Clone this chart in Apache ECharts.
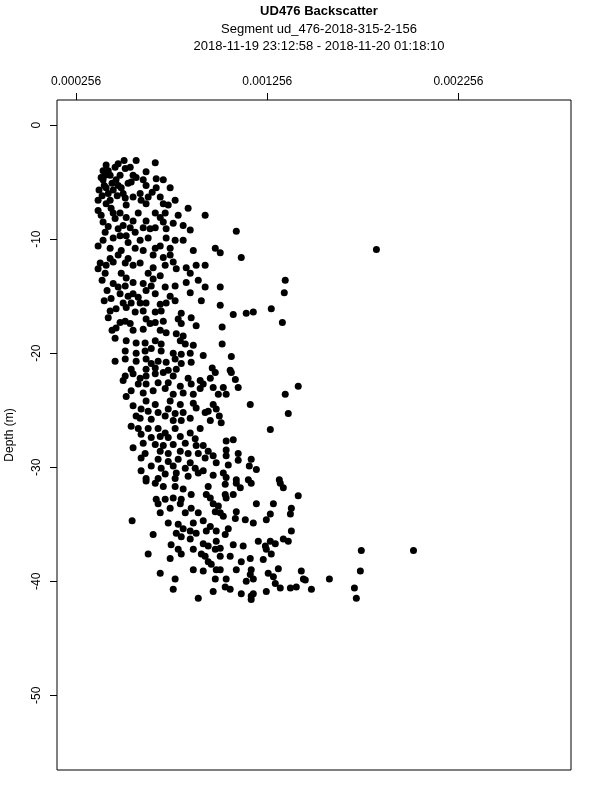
<!DOCTYPE html>
<html>
<head>
<meta charset="utf-8">
<title>UD476 Backscatter</title>
<script src="https://cdn.jsdelivr.net/npm/echarts@6/dist/echarts.min.js"></script>
<style>
  html, body { margin: 0; padding: 0; background: #fff; }
  #chart { width: 600px; height: 800px; }
</style>
</head>
<body>
<div id="chart"></div>
<script>
// backscatter / depth pairs, split by depth zone
var shallow = [
  [0.000570,-3.1],[0.000670,-3.3],[0.000476,-3.4],[0.000460,-3.7],[0.000513,-3.8],[0.000539,-3.7],[0.000397,-4.0],[0.000408,-4.4],
  [0.000397,-4.8],[0.000403,-5.3],[0.000413,-5.5],[0.000434,-4.4],[0.000465,-4.8],[0.000486,-4.4],[0.000554,-4.4],[0.000570,-4.6],
  [0.000622,-4.1],[0.000675,-4.7],[0.000712,-4.8],[0.000528,-5.1],[0.000544,-5.0],[0.000622,-5.3],[0.000675,-5.5],[0.000748,-5.5],
  [0.000424,-6.0],[0.000450,-5.7],[0.000492,-5.5],[0.000502,-6.0],[0.000513,-6.4],[0.000591,-6.0],[0.000596,-6.6],[0.000622,-6.9],
  [0.000696,-6.3],[0.000712,-6.9],[0.000738,-7.0],[0.000774,-6.6],[0.000842,-7.3],[0.000413,-6.9],[0.000439,-7.3],[0.000450,-7.7],
  [0.000486,-7.7],[0.000518,-8.1],[0.000554,-8.4],[0.000539,-9.0],[0.000670,-7.7],[0.000696,-8.1],[0.000722,-7.7],[0.000622,-8.4],
  [0.000764,-8.6],[0.000727,-9.1],[0.000712,-8.5],[0.000853,-9.2],[0.000397,-8.5],[0.000408,-9.4],[0.000476,-9.1],[0.000486,-9.7],
  [0.000565,-9.4],[0.000591,-10.1],[0.000643,-9.1],[0.000670,-9.0],[0.000727,-9.9],[0.000774,-10.1],[0.000397,-10.1],[0.000434,-10.8],
  [0.000476,-11.4],[0.000492,-11.0],[0.000565,-10.8],[0.000607,-11.0],[0.000670,-10.8],[0.000712,-11.6],[0.000748,-11.4],
  [0.000387,-4.6],[0.000424,-4.0],[0.000444,-5.1],[0.000471,-6.2],[0.000392,-6.2],[0.000376,-5.7],[0.000434,-6.6],[0.000554,-6.3],
  [0.000654,-5.9],[0.000581,-7.7],[0.000387,-7.9],[0.000371,-7.5],[0.000424,-8.9],[0.000502,-8.8],[0.000607,-9.0],[0.000790,-7.9],
  [0.000816,-8.8],[0.000931,-7.9],[0.001094,-9.3],[0.000450,-9.9],[0.000528,-10.3],[0.000633,-9.9],[0.000696,-10.6],[0.000816,-10.1],
  [0.000371,-10.6],[0.000518,-9.7],[0.000748,-10.8],[0.000984,-10.8],[0.001010,-11.2],[0.001120,-11.6],[0.001827,-10.9],[0.000869,-11.0],
  [0.000434,-11.7],[0.000528,-11.7],[0.000659,-11.4],[0.000476,-5.3],[0.000518,-7.0],[0.000460,-8.2],[0.000413,-3.5],[0.000607,-4.8],
  [0.000507,-3.1],[0.000633,-6.3],[0.000371,-6.6]
];

var upperMid = [
  [0.000382,-12.1],[0.000413,-12.3],[0.000450,-12.0],[0.000513,-12.1],[0.000554,-12.3],[0.000591,-12.1],[0.000659,-12.5],[0.000722,-12.3],
  [0.000764,-12.0],[0.000780,-12.6],[0.000832,-12.5],[0.000884,-12.3],[0.000408,-13.0],[0.000492,-13.0],[0.000518,-13.4],[0.000633,-13.0],
  [0.000659,-13.5],[0.000696,-13.2],[0.000853,-13.0],[0.000450,-13.9],[0.000476,-14.2],[0.000513,-14.1],[0.000554,-13.8],[0.000607,-13.9],
  [0.000622,-14.5],[0.000649,-14.1],[0.000722,-14.2],[0.000774,-14.1],[0.000832,-13.8],[0.000486,-14.8],[0.000528,-15.0],[0.000554,-14.8],
  [0.000581,-15.1],[0.000670,-14.8],[0.000748,-15.0],[0.000853,-14.7],[0.000439,-15.2],[0.000502,-15.6],[0.000544,-15.6],[0.000591,-15.6],
  [0.000622,-15.6],[0.000696,-15.7],[0.000727,-15.6],[0.000774,-15.4],[0.000465,-16.1],[0.000518,-16.0],[0.000565,-16.4],[0.000607,-16.3],
  [0.000670,-16.4],[0.000701,-16.3],[0.000806,-16.5],[0.000424,-16.9],[0.000486,-17.3],[0.000513,-17.2],[0.000539,-17.4],[0.000622,-17.0],
  [0.000643,-17.4],[0.000670,-17.3],[0.000712,-17.2],[0.000790,-17.0],[0.000806,-17.4],[0.000858,-16.9],[0.000465,-17.8],[0.000554,-18.0],
  [0.000607,-17.9],[0.000696,-18.0],[0.000727,-18.2],[0.000780,-18.3],[0.000816,-18.5],[0.000460,-18.7],[0.000518,-18.9],[0.000570,-19.1],
  [0.000617,-19.1],[0.000670,-18.9],[0.000701,-19.2],[0.000801,-18.9],[0.000827,-19.2],[0.000869,-19.3],[0.000513,-19.8],[0.000570,-20.0],
  [0.000617,-19.8],[0.000649,-19.6],[0.000701,-19.8],[0.000764,-20.0],[0.000806,-20.1],[0.000853,-20.0],[0.000460,-20.7],[0.000513,-20.5],
  [0.000570,-20.7],[0.000622,-20.5],[0.000649,-20.9],[0.000685,-20.7],[0.000727,-20.8],[0.000774,-20.5],[0.000806,-20.9],[0.000858,-20.8],
  [0.000544,-21.4],[0.000622,-21.4],[0.000670,-21.3],[0.000738,-21.5],[0.000780,-21.4],
  [0.000931,-12.3],[0.000931,-14.2],[0.001010,-14.2],[0.001350,-13.6],[0.001345,-14.7],[0.001010,-15.8],[0.001078,-16.6],[0.001146,-16.5],
  [0.001183,-16.4],[0.001277,-16.1],[0.001335,-17.3],[0.001020,-17.7],[0.001020,-19.2],[0.001068,-20.3],[0.000968,-21.3],[0.001062,-21.5],
  [0.000392,-13.6],[0.000418,-14.5],[0.000403,-15.4],[0.000434,-16.3],[0.000371,-12.6],[0.000444,-18.0],
  [0.000895,-13.6],[0.000911,-15.4],[0.000884,-17.6],[0.000921,-20.2]
];

var lowerMid = [
  [0.000513,-22.0],[0.000554,-21.8],[0.000591,-22.2],[0.000622,-22.0],[0.000670,-21.8],[0.000712,-21.7],[0.000764,-22.0],[0.000842,-22.2],
  [0.000905,-22.4],[0.000581,-22.7],[0.000622,-22.7],[0.000685,-22.6],[0.000738,-22.6],[0.000801,-22.9],[0.000858,-22.7],[0.000544,-23.3],
  [0.000607,-23.5],[0.000659,-23.3],[0.000722,-23.1],[0.000764,-23.6],[0.000816,-23.5],[0.000869,-23.6],[0.000905,-23.1],[0.000622,-24.2],
  [0.000670,-24.5],[0.000748,-24.2],[0.000801,-24.5],[0.000869,-24.4],[0.000596,-24.9],[0.000633,-25.1],[0.000685,-25.2],[0.000738,-24.9],
  [0.000774,-25.3],[0.000816,-25.2],[0.000884,-24.8],[0.000591,-25.7],[0.000649,-25.8],[0.000722,-25.5],[0.000764,-25.9],[0.000806,-25.9],
  [0.000853,-25.7],[0.000544,-26.4],[0.000581,-26.6],[0.000633,-26.6],[0.000685,-26.6],[0.000722,-27.0],[0.000774,-26.6],[0.000853,-27.0],
  [0.000905,-26.6],[0.000596,-27.1],[0.000649,-27.4],[0.000696,-27.3],[0.000738,-27.4],[0.000801,-27.3],[0.000879,-27.5],[0.000607,-27.9],
  [0.000670,-28.0],[0.000712,-28.1],[0.000764,-28.0],[0.000827,-27.9],[0.000884,-28.1],[0.000554,-28.3],[0.000617,-28.8],[0.000696,-28.6],
  [0.000738,-28.8],[0.000801,-28.6],[0.000842,-28.8],[0.000895,-28.8],[0.000596,-29.2],[0.000685,-29.3],[0.000738,-29.5],[0.000790,-29.3],
  [0.000853,-29.6],[0.000649,-29.9],[0.000701,-30.1],[0.000764,-29.9],[0.000827,-30.1],[0.000879,-30.1],[0.000596,-30.3],[0.000722,-30.6],
  [0.000780,-30.5],[0.000842,-30.8],[0.000895,-30.5],[0.000622,-31.0],[0.000685,-31.0],[0.000774,-31.0],
  [0.000984,-21.7],[0.001068,-21.7],[0.000958,-22.2],[0.001089,-22.3],[0.000921,-22.7],[0.000973,-23.0],[0.001026,-23.0],[0.001104,-23.0],
  [0.001418,-22.9],[0.001000,-23.6],[0.001041,-23.6],[0.001350,-23.6],[0.000973,-24.5],[0.000989,-24.9],[0.000947,-25.1],[0.000931,-25.2],
  [0.001167,-24.5],[0.001366,-25.3],[0.001005,-25.5],[0.000958,-25.9],[0.001015,-26.1],[0.001272,-26.7],[0.001041,-27.7],[0.001078,-27.6],
  [0.000921,-28.1],[0.000947,-28.6],[0.000931,-29.2],[0.000973,-29.0],[0.001041,-28.5],[0.001041,-29.0],[0.001104,-28.8],[0.000989,-29.6],
  [0.001052,-29.8],[0.001104,-29.4],[0.001172,-29.3],[0.001162,-29.9],[0.001199,-30.2],[0.000921,-30.3],[0.000973,-30.7],[0.001026,-30.5],
  [0.001041,-30.9],[0.001094,-31.1],[0.001157,-31.1],[0.001319,-31.1],
  [0.000518,-23.8],[0.000554,-24.6],[0.000502,-22.4],[0.000570,-25.5]
];

var deep = [
  [0.000622,-31.2],[0.000670,-31.4],[0.000712,-31.7],[0.000774,-31.7],[0.000816,-31.9],[0.000858,-32.4],[0.000675,-32.8],[0.000722,-32.8],
  [0.000764,-32.7],[0.000806,-32.8],[0.000685,-33.2],[0.000696,-34.0],[0.000748,-33.6],[0.000801,-33.2],[0.000827,-34.0],[0.000858,-33.6],
  [0.000895,-34.0],[0.000549,-34.7],[0.000738,-34.9],[0.000790,-35.0],[0.000816,-35.4],[0.000853,-35.6],[0.000884,-35.8],[0.000869,-34.9],
  [0.000659,-35.9],[0.000780,-35.8],[0.000806,-36.1],[0.000853,-36.3],[0.000753,-36.8],[0.000790,-37.2],[0.000806,-37.6],[0.000869,-37.2],
  [0.000911,-37.6],[0.000633,-37.6],[0.000748,-38.0],[0.000696,-39.3],[0.000774,-39.8],[0.000764,-40.7],[0.000869,-39.0],[0.000895,-41.5],
  [0.000947,-31.7],[0.000937,-32.4],[0.000958,-32.7],[0.001036,-31.5],[0.001094,-31.4],[0.001115,-31.8],[0.001172,-31.4],[0.001324,-31.4],
  [0.001340,-31.8],[0.001036,-32.4],[0.001078,-32.4],[0.001041,-32.7],[0.001418,-32.5],[0.000973,-33.2],[0.001000,-33.4],[0.000984,-33.9],
  [0.001010,-34.0],[0.001026,-34.3],[0.001199,-33.2],[0.001288,-33.2],[0.001382,-33.6],[0.001377,-34.1],[0.001094,-33.9],[0.001089,-34.5],
  [0.001141,-34.6],[0.001183,-34.9],[0.001251,-34.6],[0.001272,-34.1],[0.000921,-34.7],[0.000958,-35.2],[0.000937,-35.6],[0.000989,-35.6],
  [0.001052,-35.4],[0.001036,-35.9],[0.001382,-35.6],[0.000921,-36.7],[0.000947,-36.9],[0.000989,-36.5],[0.000984,-37.2],[0.001010,-37.1],
  [0.001078,-36.8],[0.001130,-36.9],[0.001209,-36.5],[0.001272,-36.5],[0.001298,-36.7],[0.001340,-36.3],[0.001366,-36.5],[0.001246,-36.9],
  [0.000931,-37.8],[0.000947,-38.3],[0.000963,-38.5],[0.001010,-37.8],[0.001062,-37.8],[0.001120,-38.3],[0.001167,-38.0],[0.001235,-38.1],
  [0.001251,-37.2],[0.001277,-37.6],[0.000921,-39.1],[0.000989,-39.0],[0.001010,-39.0],[0.001094,-39.0],[0.001172,-39.0],[0.001261,-39.3],
  [0.001314,-38.9],[0.001434,-39.1],[0.000984,-39.8],[0.001041,-39.8],[0.001167,-39.4],[0.001146,-40.0],[0.001183,-39.8],[0.001288,-39.6],
  [0.001298,-40.2],[0.001445,-39.8],[0.001408,-40.5],[0.001377,-40.6],[0.001487,-40.7],[0.000973,-40.9],[0.001036,-40.5],[0.001062,-40.7],
  [0.001120,-41.1],[0.001183,-41.1],[0.001172,-41.3],[0.001251,-40.9],[0.001324,-40.6],[0.001172,-41.6],
  [0.001581,-39.8],[0.001748,-37.3],[0.002021,-37.3],[0.001743,-39.1],[0.001455,-39.9],[0.001712,-40.6],[0.001722,-41.5]
];

var xTicks = [0.000256, 0.001256, 0.002256];
var yTicks = [0, -10, -20, -30, -40, -50];
var titleLines = [
  'UD476 Backscatter',
  'Segment ud_476-2018-315-2-156',
  '2018-11-19 23:12:58 - 2018-11-20 01:18:10'
];

var font = 'Liberation Sans, Arial, Helvetica, sans-serif';

function draw_backscatter(){
    var chart = echarts.init(document.getElementById('chart'), null, {renderer: 'canvas'});
    var points = shallow.concat(upperMid, lowerMid, deep);

    var option = {
        animation: false,
        backgroundColor: '#fff',
        textStyle: {fontFamily: font, color: '#000'},
        title: titleLines.map(function (t, i) {
            return {
                text: t,
                left: 314,
                top: 0 + i * 17.5,
                textAlign: 'center',
                textStyle: {
                    fontFamily: font,
                    fontSize: 13,
                    fontWeight: i === 0 ? 'bold' : 'normal',
                    color: '#000'
                }
            };
        }),
        grid: {
            left: 57,
            right: 29,
            top: 100,
            bottom: 30,
            containLabel: false,
            outerBoundsMode: 'none',
            show: true,
            borderColor: '#000',
            borderWidth: 1,
            backgroundColor: 'transparent'
        },
        xAxis: {
            type: 'value',
            position: 'top',
            min: 0.000156,
            max: 0.002845,
            axisLine: {show: false, onZero: false},
            splitLine: {show: false},
            axisTick: {
                show: true,
                length: 7,
                customValues: xTicks,
                lineStyle: {color: '#000', width: 1}
            },
            axisLabel: {
                customValues: xTicks,
                margin: 12,
                fontSize: 12,
                color: '#000',
                fontFamily: font,
                formatter: function (v) { return v.toFixed(6); }
            }
        },
        yAxis: {
            type: 'value',
            min: -56.55,
            max: 2.2,
            name: 'Depth (m)',
            nameLocation: 'middle',
            nameGap: 41,
            nameRotate: 90,
            nameTextStyle: {fontSize: 12, color: '#000', fontFamily: font},
            axisLine: {show: false, onZero: false},
            splitLine: {show: false},
            axisTick: {
                show: true,
                length: 7,
                customValues: yTicks,
                lineStyle: {color: '#000', width: 1}
            },
            axisLabel: {
                customValues: yTicks,
                rotate: 90,
                margin: 14,
                fontSize: 12,
                color: '#000',
                fontFamily: font
            }
        },
        series: [{
            name: 'backscatter',
            type: 'scatter',
            symbol: 'circle',
            symbolSize: 7,
            itemStyle: {color: '#000', opacity: 1},
            emphasis: {disabled: true},
            data: points
        }]
    };
    chart.setOption(option);
}
draw_backscatter();
</script>
</body>
</html>
